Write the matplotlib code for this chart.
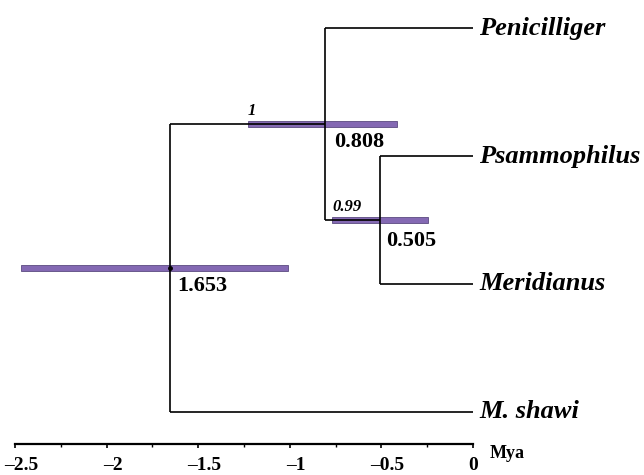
import matplotlib
matplotlib.use("Agg")
import matplotlib.pyplot as plt
from matplotlib.ticker import MultipleLocator, FuncFormatter
from matplotlib.transforms import ScaledTranslation

# ---- data ----
tips = ["Penicilliger", "Psammophilus", "Meridianus", "M. shawi"]
tip_y = [3, 2, 1, 0]
node_names = ["root", "n808", "n505"]
node_age = [1.653, 0.808, 0.505]          # Mya
node_hpd_low = [2.467, 1.228, 0.770]      # older bound (Mya)
node_hpd_high = [1.01, 0.415, 0.246]      # younger bound (Mya)
node_support = [None, "1", "0.99"]
node_labels = ["1.653", "0.808", "0.505"]

# topology: node -> children (tips by index, nodes by name)
children = {
    "n505": [("tip", 1), ("tip", 2)],
    "n808": [("tip", 0), ("node", "n505")],
    "root": [("node", "n808"), ("tip", 3)],
}

purple = "#8469b3"
purple_edge = "#5b4a80"
serif = ["Liberation Serif", "DejaVu Serif"]

fig = plt.figure(figsize=(6.44, 4.75), dpi=100)
W, H = 644, 475
x_left_px, x_right_px = 15, 473
y_bottom_px = 444
ax = fig.add_axes([x_left_px / W, (H - y_bottom_px) / H,
                   (x_right_px - x_left_px) / W, y_bottom_px / H])
ax.set_xlim(-2.5, 0)
ax.set_ylim(-0.25, 3 + 28 / 128)

age = dict(zip(node_names, node_age))
ypos = {}

def node_y(name):
    ys = []
    for kind, c in children[name]:
        ys.append(tip_y[c] if kind == "tip" else node_y(c))
    y = sum(ys) / len(ys)
    ypos[name] = y
    return y

node_y("root")

# HPD bars
for i, n in enumerate(node_names):
    lo, hi = -node_hpd_low[i], -node_hpd_high[i]
    ax.barh(ypos[n], hi - lo, left=lo, height=0.05, color=purple,
            edgecolor=purple_edge, linewidth=0.6, zorder=2)

lw = 1.2
# branches
for n in node_names:
    x = -age[n]
    ys = []
    for kind, c in children[n]:
        if kind == "tip":
            cy, cx = tip_y[c], 0.0
        else:
            cy, cx = ypos[c], -age[c]
        ys.append(cy)
        ax.plot([x, cx], [cy, cy], color="black", lw=lw, zorder=3,
                solid_capstyle="butt", clip_on=False)
    ax.plot([x, x], [min(ys), max(ys)], color="black", lw=lw, zorder=3,
            solid_capstyle="butt")

ax.plot([-age["root"]], [ypos["root"]], "o", color="black", ms=2.5, zorder=4)

# tip labels
for t, y in zip(tips, tip_y):
    ax.annotate(t, (0, y), xytext=(6, 0), textcoords="offset pixels",
                ha="left", va="center", fontsize=19, fontweight="bold",
                fontstyle="italic", family=serif, annotation_clip=False)

# node age labels
age_offsets = [(7, -18), (9, -18), (6, -21)]
for i, n in enumerate(node_names):
    ax.annotate(node_labels[i], (-age[n], ypos[n]), xytext=age_offsets[i],
                textcoords="offset pixels", ha="left", va="center",
                fontsize=16, fontweight="bold", family=serif)

# support labels
for i, n in enumerate(node_names):
    if node_support[i] is None:
        continue
    ax.annotate(node_support[i], (-node_hpd_low[i], ypos[n]), xytext=(0, 5),
                textcoords="offset pixels", ha="left", va="bottom",
                fontsize=12, fontweight="bold", fontstyle="italic",
                family=serif)

# axis styling
for s in ["top", "right", "left"]:
    ax.spines[s].set_visible(False)
ax.spines["bottom"].set_linewidth(1.6)
ax.set_yticks([])
ax.xaxis.set_major_locator(MultipleLocator(0.5))
ax.xaxis.set_minor_locator(MultipleLocator(0.25))
ax.xaxis.set_major_formatter(FuncFormatter(
    lambda v, p: ("%g" % v).replace("-", "\u2013")))
ax.tick_params(axis="x", which="major", direction="out", length=3,
               width=1.2, pad=6, labelsize=14)
ax.tick_params(axis="x", which="minor", direction="out", length=2, width=1.0)
fig.canvas.draw()
for tick in ax.xaxis.get_major_ticks():
    lab = tick.label1
    lab.set_fontfamily(serif)
    lab.set_fontweight("bold")
    if abs(tick.get_loc()) > 1e-9:
        lab.set_transform(lab.get_transform() +
                          ScaledTranslation(6 / 100, 0, fig.dpi_scale_trans))

fig.text(490 / W, 1 - 453 / H, "Mya", ha="left", va="center", fontsize=13,
         fontweight="bold", family=serif)

fig.savefig("out.png", dpi=100)
